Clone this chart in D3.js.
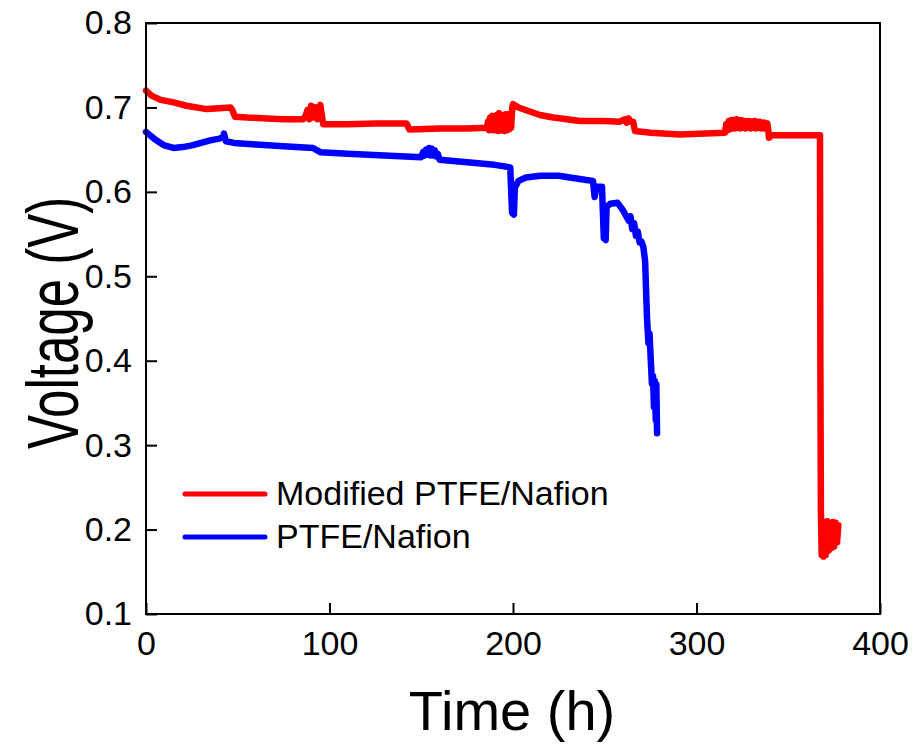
<!DOCTYPE html>
<html>
<head>
<meta charset="utf-8">
<script src="https://cdn.jsdelivr.net/npm/d3@7"></script>
<style>
  html, body { margin: 0; padding: 0; background: #fff; }
  svg { display: block; }
  text { font-family: "Liberation Sans", Arial, sans-serif; fill: #000; }
</style>
</head>
<body>
<svg id="chart" width="920" height="745"></svg>
<script>
// ---- data ----
const xTicks = [0, 100, 200, 300, 400];
const yTicks = [0.1, 0.2, 0.3, 0.4, 0.5, 0.6, 0.7, 0.8];
const seriesNames = ["Modified PTFE/Nafion", "PTFE/Nafion"];
const seriesColors = ["#ff0000", "#0000ff"];

// Modified PTFE/Nafion : [time (h), voltage (V)]
const modifiedData = [
  [0, 0.720], [3, 0.714], [8, 0.709], [15, 0.706], [22, 0.702], [33, 0.698],
  [40, 0.699], [46, 0.700], [47, 0.697], [48.5, 0.689], [55, 0.688], [66, 0.687],
  [75, 0.686], [85.6, 0.686], [87, 0.690], [88, 0.697], [89, 0.686], [90, 0.702],
  [91, 0.688], [92.5, 0.700], [93.5, 0.686], [95, 0.703], [96, 0.688], [96.6, 0.680],
  [110, 0.680], [125, 0.681], [142, 0.681], [143.5, 0.674], [160, 0.675], [175, 0.675],
  [185.7, 0.676], [186.5, 0.684], [187, 0.673], [187.6, 0.688], [188.2, 0.674], [188.8, 0.690],
  [189.4, 0.673], [190, 0.688], [190.6, 0.673], [191.2, 0.691], [191.8, 0.672], [192.4, 0.693],
  [193, 0.673], [193.6, 0.690], [194.2, 0.673], [194.8, 0.691], [195.4, 0.672], [196, 0.692],
  [196.6, 0.673], [197.2, 0.692], [197.8, 0.674], [198.4, 0.690], [199, 0.676], [199.6, 0.700],
  [200, 0.704], [203, 0.700], [208, 0.696], [214.7, 0.691],
  [222, 0.688], [236.5, 0.684], [250, 0.684], [258, 0.683], [261, 0.686], [262, 0.682],
  [263, 0.687], [264, 0.683], [265.5, 0.683], [266.5, 0.672], [275, 0.670], [291, 0.668],
  [305, 0.669], [315.5, 0.670], [316.2, 0.680], [316.9, 0.673], [317.6, 0.684], [318.3, 0.674],
  [319, 0.685], [319.7, 0.675], [320.4, 0.685], [321.1, 0.675], [321.8, 0.686], [322.5, 0.676],
  [323.2, 0.685], [323.9, 0.675], [324.6, 0.685], [325.3, 0.676], [326, 0.684], [326.7, 0.675],
  [327.4, 0.684], [328.1, 0.676], [328.8, 0.684], [329.5, 0.675], [330.2, 0.683], [330.9, 0.676],
  [331.6, 0.684], [332.3, 0.675], [333, 0.683], [333.7, 0.676], [334.4, 0.683], [335.1, 0.675],
  [335.8, 0.682], [336.5, 0.675], [337.2, 0.682], [337.9, 0.676], [338.6, 0.681], [339, 0.676],
  [339.5, 0.664], [341, 0.667], [355, 0.667], [367.3, 0.667], [367.5, 0.40], [367.8, 0.222],
  [368.2, 0.170], [368.6, 0.210], [369.2, 0.168], [369.8, 0.205], [370.5, 0.170],
  [371.2, 0.210], [372, 0.175], [372.8, 0.207], [373.5, 0.178], [374.3, 0.209],
  [375, 0.180], [375.8, 0.208], [376.6, 0.185], [377.3, 0.205]
];

// PTFE/Nafion : [time (h), voltage (V)]
const ptfeData = [
  [0, 0.671], [5, 0.662], [10, 0.655], [15, 0.652], [20, 0.653], [25, 0.655],
  [30, 0.658], [35, 0.661], [40, 0.663], [42, 0.665], [42.5, 0.669], [43.5, 0.660],
  [48, 0.658], [60, 0.656], [75, 0.654], [91, 0.652], [95, 0.647], [110, 0.645],
  [130, 0.643], [150, 0.641], [151, 0.647], [151.8, 0.643], [152.6, 0.650], [153.4, 0.644],
  [154.2, 0.652], [155, 0.643], [155.8, 0.651], [156.6, 0.643], [157.4, 0.649], [158.2, 0.642],
  [159, 0.645], [160, 0.638], [175, 0.635], [190, 0.632], [198.5, 0.629],
  [199.5, 0.575], [200.5, 0.573], [201, 0.605], [203, 0.613], [207, 0.617], [215, 0.619],
  [225, 0.619], [231, 0.617], [240, 0.614], [243.6, 0.613], [244.5, 0.594], [245.5, 0.606],
  [248.5, 0.606], [249.5, 0.545], [250.5, 0.543], [251, 0.582], [253, 0.586], [257, 0.587],
  [260, 0.578], [263, 0.566], [264, 0.571], [265, 0.556], [266, 0.563], [267, 0.548],
  [268, 0.553], [269, 0.540], [270, 0.541], [271, 0.535], [272, 0.518], [273, 0.452],
  [273.8, 0.421], [274.4, 0.432], [275, 0.405], [275.7, 0.373], [276.3, 0.382],
  [276.8, 0.345], [277.3, 0.376], [277.8, 0.330], [278.1, 0.372], [278.5, 0.314]
];

// ---- layout ----
const svg = d3.select("#chart");
const mLeft = 146, mTop = 23, mRight = 880, mBottom = 614;

const x = d3.scaleLinear().domain([0, 400]).range([mLeft, mRight]);
const y = d3.scaleLinear().domain([0.1, 0.8]).range([mBottom, mTop]);

// data lines
const line = d3.line().x(d => x(d[0])).y(d => y(d[1]));
const plot = svg.append("g");
plot.append("path").datum(modifiedData)
  .attr("d", line).attr("fill", "none").attr("stroke", seriesColors[0])
  .attr("stroke-width", 6.5).attr("stroke-linejoin", "round").attr("stroke-linecap", "round");
plot.append("path").datum(ptfeData)
  .attr("d", line).attr("fill", "none").attr("stroke", seriesColors[1])
  .attr("stroke-width", 6.5).attr("stroke-linejoin", "round").attr("stroke-linecap", "round");

// axes (inward ticks)
const xAxis = d3.axisBottom(x).tickValues(xTicks).tickSizeInner(-11).tickSizeOuter(0)
  .tickPadding(18).tickFormat(d3.format("d"));
const gx = svg.append("g").attr("transform", `translate(0,${mBottom})`).call(xAxis);
gx.select(".domain").remove();
gx.selectAll(".tick line").attr("stroke", "#000").attr("stroke-width", 2);
gx.selectAll(".tick text").attr("font-size", 34).attr("font-family", "Liberation Sans, Arial, sans-serif").attr("fill", "#000")
  .attr("y", 17).attr("dy", "0.71em");

const yAxis = d3.axisLeft(y).tickValues(yTicks).tickSizeInner(-11).tickSizeOuter(0)
  .tickPadding(14).tickFormat(d3.format(".1f"));
const gy = svg.append("g").attr("transform", `translate(${mLeft},0)`).call(yAxis);
gy.select(".domain").remove();
gy.selectAll(".tick line").attr("stroke", "#000").attr("stroke-width", 2);
gy.selectAll(".tick text").attr("font-size", 34).attr("font-family", "Liberation Sans, Arial, sans-serif").attr("fill", "#000");

// frame
svg.append("rect").attr("x", mLeft).attr("y", mTop)
  .attr("width", mRight - mLeft).attr("height", mBottom - mTop)
  .attr("fill", "none").attr("stroke", "#000").attr("stroke-width", 2);

// axis titles
svg.append("text").attr("x", (mLeft + mRight) / 2 - 1).attr("y", 730)
  .attr("text-anchor", "middle").attr("font-size", 56).text("Time (h)");
svg.append("text")
  .attr("transform", `translate(78,323) rotate(-90) scale(1,1.4)`)
  .attr("text-anchor", "middle").attr("font-size", 51).text("Voltage (V)");

// legend
const legend = svg.append("g");
seriesNames.forEach((name, i) => {
  const ly = 494 + i * 43;
  legend.append("line").attr("x1", 185).attr("x2", 265).attr("y1", ly).attr("y2", ly)
    .attr("stroke", seriesColors[i]).attr("stroke-width", 5).attr("stroke-linecap", "round");
  legend.append("text").attr("x", 276).attr("y", ly + 11)
    .attr("font-size", 34).text(name);
});
</script>
</body>
</html>
